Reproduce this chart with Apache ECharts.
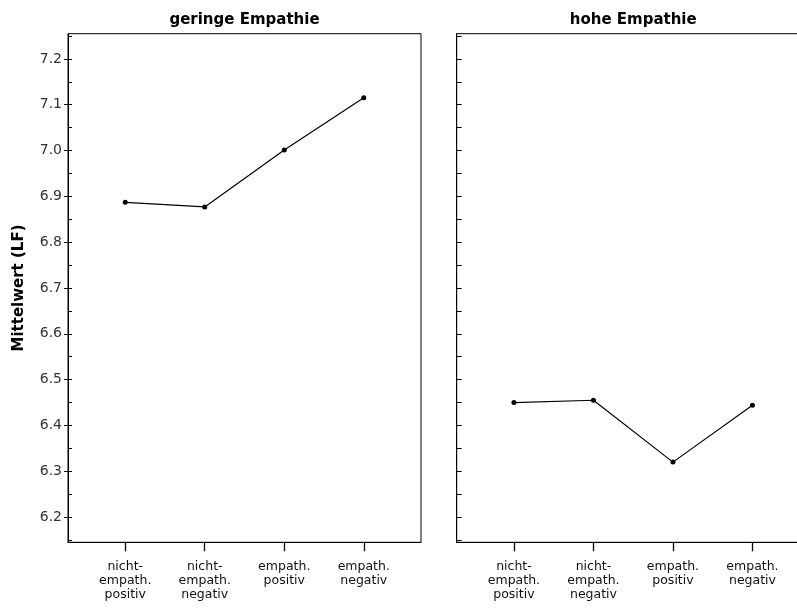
<!DOCTYPE html>
<html>
<head>
<meta charset="utf-8">
<script src="https://cdn.jsdelivr.net/npm/echarts@6/dist/echarts.min.js"></script>
<style>
  html, body { margin: 0; padding: 0; background: #fff; overflow: hidden; }
  #chart { width: 830px; height: 610px; }
</style>
</head>
<body>
<div id="chart"></div>
<script>
// Conditions on the x axis (shared by both panels)
const categories = ['nicht-\nempath.\npositiv', 'nicht-\nempath.\nnegativ', 'empath.\npositiv', 'empath.\nnegativ'];
// Panel titles
const panelTitles = ['geringe Empathie', 'hohe Empathie'];
// Mean values per condition
const geringeValues = [6.887, 6.877, 7.001, 7.115];
const hoheValues = [6.450, 6.455, 6.320, 6.444];
// Y axis ticks
const yMajorTicks = [6.2, 6.3, 6.4, 6.5, 6.6, 6.7, 6.8, 6.9, 7.0, 7.1, 7.2];
const yMinorTicks = [6.15, 6.2, 6.25, 6.3, 6.35, 6.4, 6.45, 6.5, 6.55, 6.6, 6.65, 6.7, 6.75, 6.8, 6.85, 6.9, 6.95, 7.0, 7.05, 7.1, 7.15, 7.2, 7.25];
const yName = 'Mittelwert (LF)';

const FONT = 'DejaVu Sans, Verdana, sans-serif';
const Y_MIN = 6.145, Y_MAX = 7.255;
const X_MIN = -0.72, X_MAX = 3.72;
const catIdx = categories.map((c, i) => i);

// Two panels of equal size; the second one runs past the right edge of the page
const grids = [
  { left: 68, top: 33.7, width: 353, height: 508.6 },
  { left: 456.7, top: 33.7, width: 353, height: 508.6 }
].map(g => Object.assign(g, { show: true, borderColor: '#000', borderWidth: 1, backgroundColor: '#fff', containLabel: false }));

function xAxisFor(gi) {
  return {
    type: 'value', gridIndex: gi, min: X_MIN, max: X_MAX,
    axisLine: { show: true, onZero: false, lineStyle: { color: '#000', width: 1 } },
    axisTick: { show: true, inside: false, length: 9, customValues: catIdx, lineStyle: { color: '#000', width: 1.3 } },
    axisLabel: {
      show: true, customValues: catIdx, margin: 17,
      formatter: v => categories[Math.round(v)],
      color: '#111', fontFamily: FONT, fontSize: 12.5, lineHeight: 14, align: 'center'
    },
    splitLine: { show: false }
  };
}

function yAxisBase(gi) {
  return {
    type: 'value', gridIndex: gi, min: Y_MIN, max: Y_MAX, position: 'left',
    splitLine: { show: false }
  };
}

function lineSeries(gi, values) {
  return {
    type: 'line', xAxisIndex: gi, yAxisIndex: gi === 0 ? 0 : 2,
    data: values.map((v, i) => [catIdx[i], v]),
    symbol: 'circle', symbolSize: 5,
    itemStyle: { color: '#000' },
    lineStyle: { color: '#000', width: 1.2 },
    silent: true, animation: false
  };
}

const chart = echarts.init(document.getElementById('chart'), null, { renderer: 'canvas' });
chart.setOption({
  backgroundColor: '#fff',
  animation: false,
  title: panelTitles.map((t, i) => ({
    text: t,
    left: grids[i].left + grids[i].width / 2,
    top: 13,
    padding: 0,
    textAlign: 'center',
    textStyle: { fontFamily: FONT, fontSize: 15, fontWeight: 'bold', color: '#000' }
  })),
  grid: grids,
  xAxis: [xAxisFor(0), xAxisFor(1)],
  yAxis: [
    Object.assign(yAxisBase(0), {
      name: yName, nameLocation: 'middle', nameGap: 41, nameRotate: 90,
      nameTextStyle: { fontFamily: FONT, fontSize: 15, fontWeight: 'bold', color: '#000' },
      axisLine: { show: true, onZero: false, lineStyle: { color: '#000', width: 1 } },
      axisTick: { show: true, inside: false, length: 4, customValues: yMajorTicks, lineStyle: { color: '#000', width: 1 } },
      axisLabel: {
        show: true, customValues: yMajorTicks, margin: 6,
        formatter: v => v.toFixed(1),
        color: '#333', fontFamily: FONT, fontSize: 14
      }
    }),
    Object.assign(yAxisBase(0), {
      axisLine: { show: false, onZero: false },
      axisTick: { show: true, inside: true, length: 4, customValues: yMinorTicks, lineStyle: { color: '#000', width: 1 } },
      axisLabel: { show: false }
    }),
    Object.assign(yAxisBase(1), {
      axisLine: { show: true, onZero: false, lineStyle: { color: '#000', width: 1 } },
      axisTick: { show: true, inside: true, length: 5, customValues: yMinorTicks, lineStyle: { color: '#000', width: 1 } },
      axisLabel: { show: false }
    })
  ],
  series: [lineSeries(0, geringeValues), lineSeries(1, hoheValues)]
});
</script>
</body>
</html>
